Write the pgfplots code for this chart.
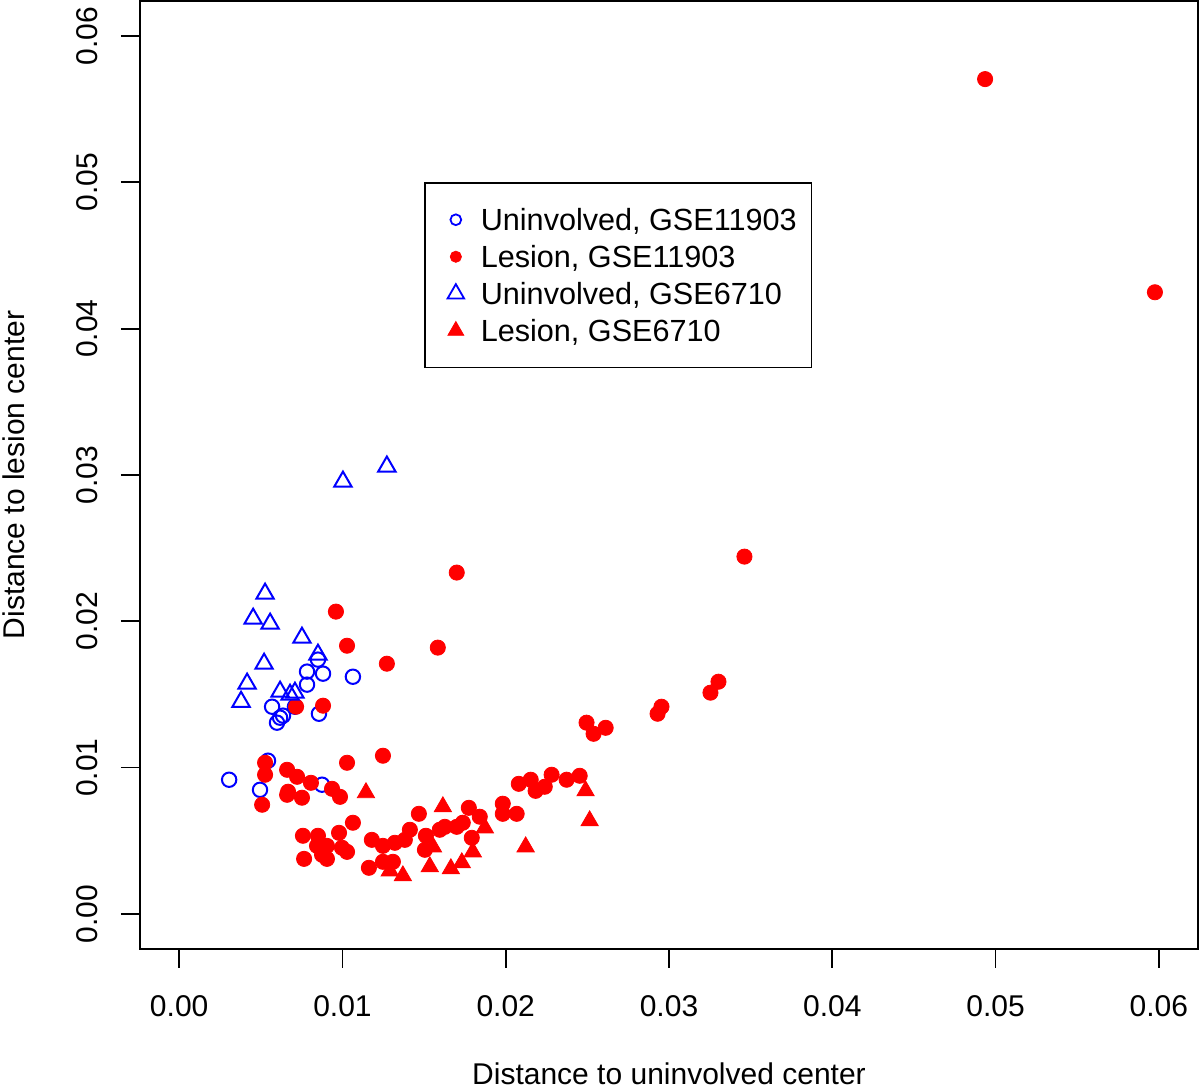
\documentclass[border=0pt]{standalone}
\usepackage{pgfplots}
\pgfplotsset{compat=1.18}
\usepackage{fontspec}
\setmainfont{Liberation Sans}
\definecolor{rblue}{RGB}{0,0,255}
\definecolor{rred}{RGB}{255,0,0}
\newcommand{\chartfont}{\fontsize{15}{18}\selectfont}
\newcommand{\legfont}{\fontsize{15.3}{18}\selectfont}
\begin{document}
\begin{tikzpicture}
\begin{axis}[
  scale only axis, width=529pt, height=474pt,
  xmin=-0.0024, xmax=0.0624, ymin=-0.0024, ymax=0.0624,
  axis line style={line width=0.9pt},
  xtick={0,0.01,0.02,0.03,0.04,0.05,0.06},
  ytick={0,0.01,0.02,0.03,0.04,0.05,0.06},
  scaled ticks=false,
  xtick pos=bottom, ytick pos=left, tick align=outside,
  major tick length=9.5pt,
  tick style={line width=0.9pt, black},
  /pgf/number format/fixed, /pgf/number format/fixed zerofill,
  /pgf/number format/precision=2, /pgf/number format/assume math mode=true,
  tick label style={font=\chartfont},
  xticklabel style={anchor=center}, xticklabel shift=19pt,
  yticklabel style={rotate=90, anchor=center}, yticklabel shift=17pt,
  xlabel={Distance to uninvolved center},
  ylabel={Distance to lesion center},
  label style={font=\chartfont},
  xlabel style={at={(axis description cs:0.5,-0.1318)}, anchor=center},
  ylabel style={at={(axis description cs:-0.1197,0.5)}, anchor=center},
  legend style={at={(axis cs:0.015,0.05)}, anchor=north west, draw=black,
    line width=0.75pt, inner xsep=7.5pt, inner ysep=12.9pt, row sep=7.7pt,
    font=\legfont, nodes={inner sep=0pt, text height=10.8pt, text depth=0pt}},
  legend cell align=left,
  legend image code/.code={\path[draw=none,fill=none] (-8pt,-5pt) rectangle (12.5pt,5pt); \draw plot coordinates {(0pt,0pt)};},
]
% Uninvolved, GSE11903
\addplot[only marks, mark=o, color=rblue, mark size=3.6pt, line width=1pt,
  legend image post style={mark size=2.7pt, line width=0.9pt}] table {
x y
0.00306 0.00917
0.00495 0.00848
0.00544 0.01047
0.00875 0.00883
0.00599 0.01307
0.00618 0.01341
0.00636 0.01355
0.00569 0.01416
0.00709 0.01416
0.00783 0.01656
0.00783 0.01567
0.00881 0.01642
0.00856 0.01368
0.01064 0.01621
0.00850 0.01738
};
\addlegendentry{Uninvolved, GSE11903}
% Lesion, GSE11903
\addplot[only marks, mark=*, color=rred, mark size=3.8pt, line width=0.4pt,
  legend image post style={mark size=2.8pt}] table {
x y
0.04936 0.05706
0.05976 0.04249
0.03462 0.02442
0.01700 0.02333
0.00960 0.02066
0.01584 0.01820
0.01028 0.01833
0.01272 0.01710
0.00881 0.01423
0.00716 0.01416
0.03303 0.01587
0.03254 0.01512
0.02954 0.01416
0.02930 0.01368
0.02495 0.01307
0.02538 0.01231
0.02612 0.01272
0.02373 0.00917
0.02453 0.00944
0.02281 0.00951
0.02239 0.00869
0.02183 0.00841
0.02153 0.00917
0.02080 0.00889
0.01982 0.00753
0.01982 0.00684
0.02067 0.00684
0.01774 0.00725
0.01841 0.00664
0.01700 0.00595
0.01792 0.00520
0.01737 0.00623
0.01627 0.00595
0.01596 0.00575
0.01511 0.00534
0.01505 0.00438
0.01468 0.00684
0.01413 0.00575
0.01382 0.00506
0.01321 0.00486
0.01248 0.00465
0.01180 0.00506
0.01248 0.00356
0.01309 0.00356
0.01162 0.00315
0.01064 0.00623
0.00979 0.00554
0.00997 0.00452
0.01028 0.00424
0.00850 0.00534
0.00844 0.00465
0.00905 0.00465
0.00875 0.00404
0.00905 0.00376
0.00758 0.00534
0.00765 0.00376
0.01028 0.01033
0.01248 0.01081
0.00526 0.01033
0.00526 0.00951
0.00508 0.00746
0.00661 0.00985
0.00722 0.00937
0.00807 0.00896
0.00667 0.00835
0.00661 0.00814
0.00752 0.00794
0.00936 0.00855
0.00985 0.00800
};
\addlegendentry{Lesion, GSE11903}
% Uninvolved, GSE6710
\addplot[only marks, mark=triangle, color=rblue, mark size=5pt, line width=1pt,
  legend image post style={mark size=4.8pt, line width=0.9pt}] table {
x y
0.01003 0.02955
0.01272 0.03058
0.00526 0.02189
0.00453 0.02018
0.00557 0.01984
0.00752 0.01888
0.00850 0.01772
0.00520 0.01710
0.00416 0.01574
0.00379 0.01450
0.00618 0.01519
0.00679 0.01498
0.00709 0.01512
};
\addlegendentry{Uninvolved, GSE6710}
% Lesion, GSE6710
\addplot[only marks, mark=triangle*, color=rred, mark size=5pt, line width=0.4pt,
  legend image post style={mark size=4.6pt}] table {
x y
0.01144 0.00828
0.01290 0.00294
0.01370 0.00260
0.01535 0.00322
0.01615 0.00732
0.01664 0.00308
0.01731 0.00349
0.01798 0.00424
0.01554 0.00458
0.01872 0.00588
0.02122 0.00458
0.02489 0.00841
0.02514 0.00636
};
\addlegendentry{Lesion, GSE6710}
\end{axis}
\pgfresetboundingbox
\path ([xshift=-70pt,yshift=-70.5pt]current axis.south west) rectangle ([xshift=1pt,yshift=0.5pt]current axis.north east);
\end{tikzpicture}
\end{document}
